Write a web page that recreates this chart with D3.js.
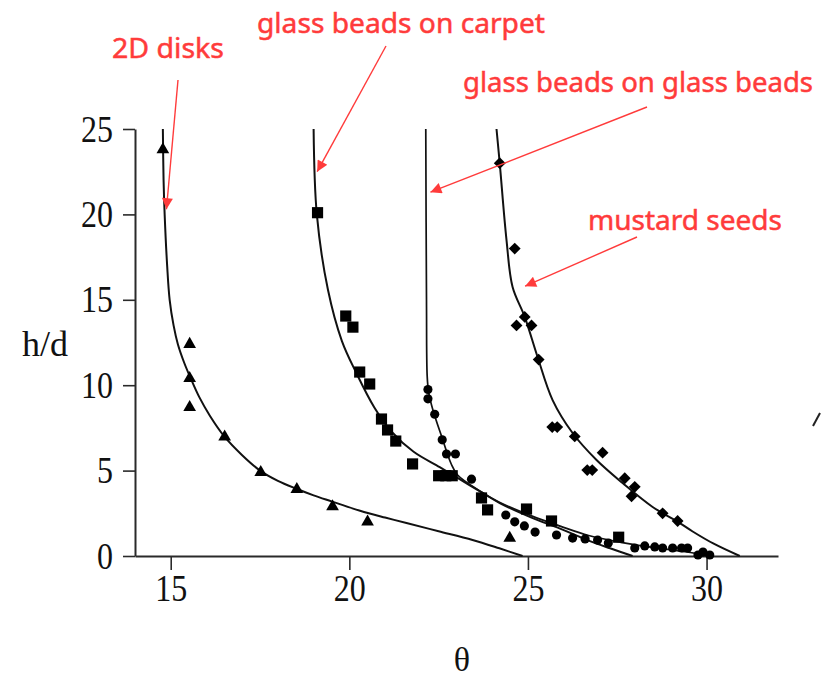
<!DOCTYPE html>
<html>
<head>
<meta charset="utf-8">
<script src="https://cdn.jsdelivr.net/npm/d3@7"></script>
<style>
  body { margin: 0; background: #fff; }
  svg { display: block; }
</style>
</head>
<body>
<svg id="chart" width="821" height="677"></svg>
<script>
// Axis ticks
const xTicks = [15, 20, 25, 30];
const yTicks = [0, 5, 10, 15, 20, 25];

// Measured points (theta, h/d) for each material
const disksPts = [[14.78, 23.8], [15.53, 12.4], [15.53, 10.4], [15.53, 8.7], [16.51, 6.97],
  [17.52, 4.9], [18.53, 3.9], [19.53, 2.9], [20.51, 2.0], [24.49, 1.05]];
const carpetPts = [[19.11, 20.1], [19.9, 14.05], [20.1, 13.4], [20.29, 10.77], [20.57, 10.07],
  [20.9, 8.02], [21.07, 7.38], [21.3, 6.73], [21.77, 5.39], [22.5, 4.7], [22.7, 4.7], [22.88, 4.7],
  [23.7, 3.4], [23.87, 2.7], [24.96, 2.75], [25.66, 2.05], [27.54, 1.1]];
const glassPts = [[22.2, 9.75], [22.2, 9.2], [22.39, 8.3], [22.6, 6.8], [22.72, 5.97], [22.97, 5.97],
  [23.42, 4.5], [24.38, 2.4], [24.63, 2.0], [24.9, 1.76], [25.2, 1.4], [25.8, 1.23], [26.25, 1.05],
  [26.6, 1.0], [26.95, 0.93], [27.25, 0.76], [27.99, 0.47], [28.27, 0.59], [28.55, 0.53],
  [28.77, 0.47], [29.05, 0.47], [29.3, 0.47], [29.47, 0.47], [29.9, 0.23], [29.76, 0.06], [30.09, 0.06]];
const mustardPts = [[24.21, 23.0], [24.63, 18.0], [24.91, 14.0], [24.68, 13.5], [25.1, 13.5],
  [25.3, 11.5], [25.68, 7.55], [25.82, 7.55], [26.31, 7.0], [27.09, 6.05], [26.66, 5.03], [26.8, 5.03],
  [27.71, 4.55], [27.99, 4.05], [27.9, 3.5], [28.77, 2.5], [29.19, 2.05]];

// Fitted curves (theta, h/d)
const disksFit = [[14.78, 25], [14.8, 22], [14.83, 20], [14.9, 17], [14.97, 15], [15.08, 13.5],
  [15.2, 12.4], [15.38, 11.3], [15.56, 10.4], [15.8, 9.3], [16.1, 8.2], [16.5, 7.0], [17.0, 5.9],
  [17.5, 5.0], [18.0, 4.4], [18.5, 3.95], [19.0, 3.55], [19.5, 3.2], [20.3, 2.65], [21.0, 2.25],
  [21.6, 1.93], [22.5, 1.45], [23.45, 0.94], [24.2, 0.45], [24.85, 0]];
const carpetFit = [[19.0, 25], [19.09, 20], [19.4, 15.6], [19.79, 12.6], [20.2, 10.7], [20.7, 8.7],
  [21.19, 7.26], [21.8, 6.1], [22.53, 5.2], [23.03, 4.57], [23.73, 3.69], [24.21, 3.1], [25.1, 2.25],
  [25.9, 1.6], [26.7, 0.9], [27.3, 0.45], [27.93, 0]];
const glassFit = [[22.14, 25], [22.16, 15], [22.18, 10.5], [22.22, 9.6], [22.34, 8.55], [22.6, 6.9],
  [22.85, 5.4], [23.03, 4.74], [23.7, 3.75], [24.2, 3.15], [25.1, 2.35], [25.9, 1.75], [26.7, 1.2],
  [27.6, 0.8], [28.5, 0.5], [29.4, 0.25], [30.15, 0]];
const mustardFit = [[24.12, 25], [24.21, 23.0], [24.4, 18.5], [24.57, 15.75], [24.91, 14.0],
  [25.27, 11.65], [25.69, 9.13], [26.25, 7.2], [26.92, 5.62], [27.65, 4.27], [28.49, 2.87],
  [29.25, 1.93], [29.6, 1.45], [30.2, 0.72], [30.93, 0]];

// Annotation labels and the curve point each arrow targets
const noteText = ["2D disks", "glass beads on carpet", "glass beads on glass beads", "mustard seeds"];
const noteTarget = [[14.88, 20.3], [19.1, 22.5], [22.27, 21.3], [24.92, 15.8]];

const svg = d3.select("#chart");
const x = d3.scaleLinear().domain([14, 32]).range([135, 778]);
const y = d3.scaleLinear().domain([0, 25]).range([556, 129]);

const serif = "'Liberation Serif', 'Times New Roman', serif";
const red = "#ff3b3b";

// Axes
const yAxis = svg.append("g").attr("transform", "translate(135,0)")
  .call(d3.axisLeft(y).tickValues(yTicks).tickSize(12).tickSizeOuter(0).tickPadding(10));
const xAxis = svg.append("g").attr("transform", "translate(0,556)")
  .call(d3.axisBottom(x).tickValues(xTicks).tickSize(14).tickSizeOuter(0).tickPadding(4));

[yAxis, xAxis].forEach(g => {
  g.selectAll("path.domain").attr("stroke", "#2a2a2a").attr("stroke-width", 2);
  g.selectAll(".tick line").attr("stroke", "#2a2a2a").attr("stroke-width", 1.6);
  g.selectAll(".tick text")
    .attr("font-family", serif).attr("font-size", 38).attr("fill", "#111")
    .attr("textLength", d => String(d).length * 16)
    .attr("lengthAdjust", "spacingAndGlyphs");
});

// Axis titles
svg.append("text").attr("x", 22).attr("y", 356)
  .attr("font-family", serif).attr("font-size", 36).attr("fill", "#111")
  .text("h/d");
svg.append("text").attr("x", 462).attr("y", 671).attr("text-anchor", "middle")
  .attr("font-family", serif).attr("font-size", 34).attr("fill", "#111")
  .text("θ");

// Fit curves
const lineX = d3.line().x(d => x(d[0])).y(d => y(d[1])).curve(d3.curveCatmullRom.alpha(0.5));
[[disksFit, 2], [carpetFit, 2], [glassFit, 1.7], [mustardFit, 2]].forEach(([pts, w]) => {
  svg.append("path").datum(pts).attr("d", lineX)
    .attr("fill", "none").attr("stroke", "#111").attr("stroke-width", w);
});

// Data markers
function markers(pts, type, size, rot) {
  svg.append("g").selectAll("path").data(pts).join("path")
    .attr("d", d3.symbol().type(type).size(size))
    .attr("transform", d => `translate(${x(d[0])},${y(d[1])}) rotate(${rot})`)
    .attr("fill", "#000");
}
markers(disksPts, d3.symbolTriangle, 70, 0);
markers(carpetPts, d3.symbolSquare, 125, 0);
markers(glassPts, d3.symbolCircle, 66, 0);
markers(mustardPts, d3.symbolSquare, 70, 45);

// Red annotations
const defs = svg.append("defs");
defs.append("marker").attr("id", "head").attr("viewBox", "0 0 10 10")
  .attr("refX", 10).attr("refY", 5).attr("markerWidth", 15).attr("markerHeight", 11)
  .attr("markerUnits", "userSpaceOnUse").attr("orient", "auto")
  .append("path").attr("d", "M0,0L10,5L0,10Z").attr("fill", red);

const notePos = [
  { tx: 112, ty: 58, w: 112, sx: 178, sy: 80 },
  { tx: 257, ty: 33, w: 288, sx: 386, sy: 46 },
  { tx: 463, ty: 92, w: 350, sx: 647, sy: 107 },
  { tx: 588, ty: 230, w: 194, sx: 637, sy: 237 }
];
noteText.forEach((t, i) => {
  const p = notePos[i];
  svg.append("text").attr("x", p.tx).attr("y", p.ty)
    .attr("font-family", "'Noto Sans', 'DejaVu Sans', sans-serif").attr("font-size", 28)
    .attr("fill", red).attr("stroke", red).attr("stroke-width", 0.5)
    .attr("textLength", p.w).attr("lengthAdjust", "spacingAndGlyphs")
    .text(t);
  svg.append("line").attr("x1", p.sx).attr("y1", p.sy)
    .attr("x2", x(noteTarget[i][0])).attr("y2", y(noteTarget[i][1]))
    .attr("stroke", red).attr("stroke-width", 1.4).attr("marker-end", "url(#head)");
});

// Stray stroke at the right edge
svg.append("line").attr("x1", 813).attr("y1", 426).attr("x2", 820).attr("y2", 413)
  .attr("stroke", "#222").attr("stroke-width", 2);
</script>
</body>
</html>
